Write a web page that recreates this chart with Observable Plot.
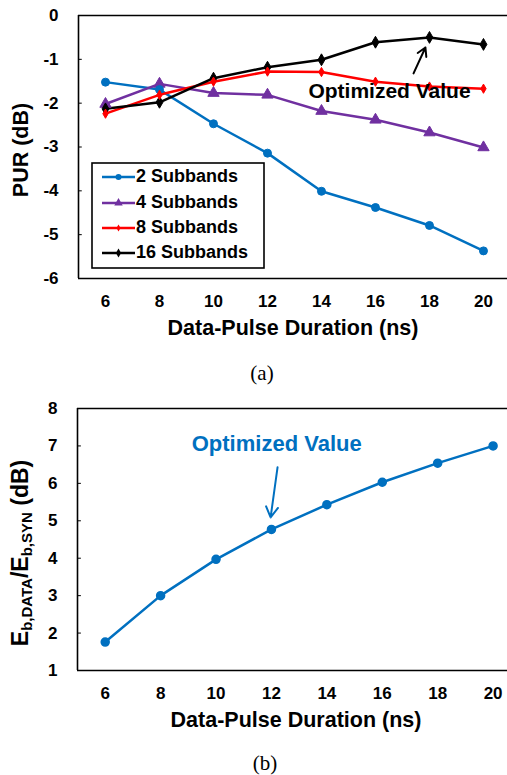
<!DOCTYPE html>
<html><head><meta charset="utf-8">
<script src="https://cdn.jsdelivr.net/npm/d3@7"></script>
<script src="https://cdn.jsdelivr.net/npm/@observablehq/plot@0.6"></script>
<style>
body{margin:0;background:#fff;}
#wrap{position:relative;width:507px;height:775px;overflow:hidden;font-family:Arial,"Liberation Sans",sans-serif;}
.panel{position:absolute;left:0;}
.cap{position:absolute;font-family:"Liberation Serif","Times New Roman",serif;font-size:21px;transform:translate(-50%,-50%);color:#000;}
</style></head><body><div id="wrap"></div>
<script>
// ---- data ----
const durations = [6, 8, 10, 12, 14, 16, 18, 20];
const pur2  = [-1.52, -1.69, -2.47, -3.14, -4.01, -4.38, -4.79, -5.37];
const pur4  = [-2.02, -1.56, -1.77, -1.81, -2.18, -2.38, -2.67, -3.01];
const pur8  = [-2.24, -1.81, -1.51, -1.28, -1.29, -1.51, -1.62, -1.67];
const pur16 = [-2.13, -1.98, -1.43, -1.18, -1.01, -0.61, -0.50, -0.66];
const ebRatio = [1.76, 3.00, 3.97, 4.77, 5.43, 6.03, 6.54, 7.00];
const seriesNames = ["2 Subbands", "4 Subbands", "8 Subbands", "16 Subbands"];
const seriesColors = ["#0070C0", "#7030A0", "#FF0000", "#000000"];
const seriesSymbols = ["circle", "triangle", "diamond", "diamond"];
const seriesR = [4, 4.2, 2.8, 3.6];
const purTicks = [0, -1, -2, -3, -4, -5, -6];
const ebTicks = [1, 2, 3, 4, 5, 6, 7, 8];
const xTicks = [6, 8, 10, 12, 14, 16, 18, 20];
const annotLabel = ["Optimized Value", "Optimized Value"];
const annotTextXY = [[16.52, -1.72], [12.19, 7.04]];
const annotArrow = [[17.41, -1.32, 17.85, -0.73], [12.22, 6.43, 11.97, 5.09]];
const xTitle = "Data-Pulse Duration (ns)";
const blue = "#0070C0";

const wrap = document.getElementById("wrap");
const fmt = d => String(d);
const FONT = "Arial, 'Liberation Sans', sans-serif";

// ---- panel (a) ----
const allPur = [pur2, pur4, pur8, pur16];
const rows = [];
seriesNames.forEach((s, i) => allPur[i].forEach((v, j) => rows.push({series: s, x: durations[j], y: v, r: seriesR[i]})));

const plotA = Plot.plot({
  width: 507, height: 350,
  marginTop: 15, marginBottom: 72, marginLeft: 78, marginRight: 0,
  x: {domain: [5, 20.89]},
  y: {domain: [-6, 0]},
  r: {type: "identity"},
  color: {domain: seriesNames, range: seriesColors},
  symbol: {domain: seriesNames, range: seriesSymbols},
  style: {fontFamily: FONT, fontWeight: "bold", fontSize: "17px", color: "#000", background: "transparent", overflow: "visible"},
  marks: [
    Plot.axisY({ticks: purTicks, tickSize: 0, tickPadding: 20, tickFormat: fmt, label: null, fontSize: 17}),
    Plot.axisX({ticks: xTicks, tickSize: 0, tickPadding: 16, tickFormat: fmt, label: null, fontSize: 17}),
    Plot.ruleY(purTicks, {y: d => d, x1: 5, x2: 5.14, stroke: "#000", strokeWidth: 1}),
    Plot.ruleX([5], {stroke: "#000", strokeWidth: 1.6}),
    Plot.ruleY([0, -6], {stroke: "#000", strokeWidth: 1.6}),
    Plot.line(rows, {x: "x", y: "y", z: "series", stroke: "series", strokeWidth: 2.5}),
    Plot.dot(rows, {x: "x", y: "y", symbol: "series", fill: "series", stroke: "series", r: "r", strokeWidth: 1}),
    Plot.text([0], {x: annotTextXY[0][0], y: annotTextXY[0][1], text: () => annotLabel[0], fontSize: 21, fontWeight: "bold", fill: "#000"}),
    Plot.arrow([0], {x1: annotArrow[0][0], y1: annotArrow[0][1], x2: annotArrow[0][2], y2: annotArrow[0][3], stroke: "#000", strokeWidth: 2, headLength: 9, bend: 0})
  ]
});
const divA = document.createElement("div");
divA.className = "panel"; divA.style.top = "0px";
divA.appendChild(plotA);
wrap.appendChild(divA);

const svgA = d3.select(plotA);
svgA.append("text").attr("x", 293).attr("y", 329).attr("text-anchor", "middle").attr("dominant-baseline", "middle")
  .attr("font-size", 21.5).attr("font-weight", "bold").attr("fill", "#000").text(xTitle);
svgA.append("text").attr("transform", "translate(22,150) rotate(-90)").attr("text-anchor", "middle").attr("dominant-baseline", "middle")
  .attr("font-size", 21.5).attr("font-weight", "bold").attr("fill", "#000").text("PUR (dB)");

// legend
const lg = svgA.append("g");
lg.append("rect").attr("x", 92).attr("y", 163).attr("width", 172).attr("height", 105)
  .attr("fill", "#fff").attr("stroke", "#000").attr("stroke-width", 1.6);
const legY = [177, 203, 228, 253];
const symMap = {circle: d3.symbolCircle, triangle: d3.symbolTriangle, diamond: d3.symbolDiamond};
seriesNames.forEach((s, i) => {
  const y = legY[i];
  lg.append("line").attr("x1", 102).attr("x2", 135).attr("y1", y).attr("y2", y)
    .attr("stroke", seriesColors[i]).attr("stroke-width", 2.5);
  const r = seriesR[i] * 0.75;
  lg.append("path").attr("transform", `translate(118.5,${y})`)
    .attr("d", d3.symbol(symMap[seriesSymbols[i]], Math.PI * r * r)())
    .attr("fill", seriesColors[i]);
  lg.append("text").attr("x", 136).attr("y", y).attr("text-anchor", "start").attr("dominant-baseline", "middle")
    .attr("font-size", 18).attr("font-weight", "bold").attr("fill", "#000").text(s);
});

const capA = document.createElement("div");
capA.className = "cap"; capA.style.left = "262px"; capA.style.top = "373px"; capA.textContent = "(a)";
wrap.appendChild(capA);

// ---- panel (b) ----
const rowsB = durations.map((d, j) => ({x: d, y: ebRatio[j]}));
const plotB = Plot.plot({
  width: 507, height: 360,
  marginTop: 28, marginBottom: 70, marginLeft: 77, marginRight: 0,
  x: {domain: [5, 20.52]},
  y: {domain: [1, 8]},
  style: {fontFamily: FONT, fontWeight: "bold", fontSize: "17px", color: "#000", background: "transparent", overflow: "visible"},
  marks: [
    Plot.axisY({ticks: ebTicks, tickSize: 0, tickPadding: 20, tickFormat: fmt, label: null, fontSize: 17}),
    Plot.axisX({ticks: xTicks, tickSize: 0, tickPadding: 16, tickFormat: fmt, label: null, fontSize: 17}),
    Plot.ruleY(ebTicks, {y: d => d, x1: 5, x2: 5.14, stroke: "#000", strokeWidth: 1}),
    Plot.ruleX([5], {stroke: "#000", strokeWidth: 1.6}),
    Plot.ruleY([1, 8], {stroke: "#000", strokeWidth: 1.6}),
    Plot.line(rowsB, {x: "x", y: "y", stroke: blue, strokeWidth: 2.5}),
    Plot.dot(rowsB, {x: "x", y: "y", fill: blue, stroke: blue, r: 4}),
    Plot.text([0], {x: annotTextXY[1][0], y: annotTextXY[1][1], text: () => annotLabel[1], fontSize: 22, fontWeight: "bold", fill: blue}),
    Plot.arrow([0], {x1: annotArrow[1][0], y1: annotArrow[1][1], x2: annotArrow[1][2], y2: annotArrow[1][3], stroke: blue, strokeWidth: 2, headLength: 9, bend: 0})
  ]
});
const divB = document.createElement("div");
divB.className = "panel"; divB.style.top = "380px";
divB.appendChild(plotB);
wrap.appendChild(divB);

const svgB = d3.select(plotB);
svgB.append("text").attr("x", 296).attr("y", 341.7).attr("text-anchor", "middle").attr("dominant-baseline", "middle")
  .attr("font-size", 21.5).attr("font-weight", "bold").attr("fill", "#000").text(xTitle);
const yl = svgB.append("text").attr("transform", "translate(22,173) rotate(-90)").attr("text-anchor", "middle")
  .attr("dominant-baseline", "middle").attr("font-size", 23).attr("font-weight", "bold").attr("fill", "#000");
yl.append("tspan").text("E");
yl.append("tspan").attr("font-size", 15).attr("dy", 6).text("b,DATA");
yl.append("tspan").attr("dy", -6).text("/E");
yl.append("tspan").attr("font-size", 15).attr("dy", 6).text("b,SYN");
yl.append("tspan").attr("dy", -6).text(" (dB)");

const capB = document.createElement("div");
capB.className = "cap"; capB.style.left = "265px"; capB.style.top = "763px"; capB.textContent = "(b)";
wrap.appendChild(capB);
</script></body></html>
